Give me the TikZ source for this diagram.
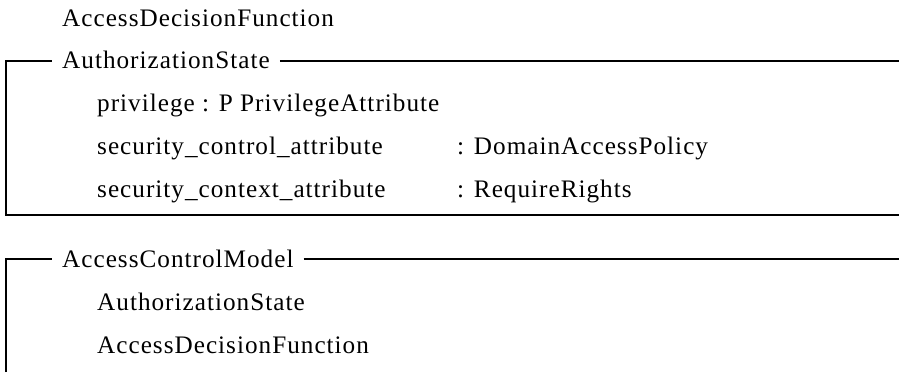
\documentclass[tikz,border=0pt]{standalone}
\usepackage{fontspec}
\setmainfont{Liberation Serif}
\newfontfamily\schemafont[LetterSpace=4]{Liberation Serif}

\begin{document}
\begin{tikzpicture}
[x=1pt,y=-1pt,
  textDecorate/.style={anchor=base west,inner sep=0pt,font=\schemafont\fontsize{25.2}{30}\selectfont},
  titleDecorate/.style={textDecorate,inner xsep=10pt},
  lineDecorate/.style={-,line width=1.5pt}]
\useasboundingbox (0,0) rectangle (899,372);
%% text lines
\foreach \nodename/\x/\y/\txt in {
  adfName/62/26/AccessDecisionFunction,
  privLine/97/111/privilege : P PrivilegeAttribute,
  ctrlLine/97/154/security\_control\_attribute,
  ctrlType/457/154/: DomainAccessPolicy,
  ctxLine/97/197/security\_context\_attribute,
  ctxType/457/197/: RequireRights,
  stateRef/97/310/AuthorizationState,
  adfRef/97/353/AccessDecisionFunction}
{
  \node (\nodename) at (\x,\y) [textDecorate] {\txt};
}
%% schema titles
\node (stateTitle) at (52,68) [titleDecorate] {AuthorizationState};
\node (modelTitle) at (52,267) [titleDecorate] {AccessControlModel};
%% frame corners
\coordinate (stateTL) at (6,61);
\coordinate (stateTR) at (899,61);
\coordinate (stateBL) at (6,215);
\coordinate (stateBR) at (899,215);
\coordinate (modelTL) at (6,259);
\coordinate (modelTR) at (899,259);
\coordinate (modelBL) at (6,372);
%% frames
\draw[lineDecorate] (stateBR) -- (stateBL) -- (stateTL) -- (stateTitle.west |- stateTL);
\draw[lineDecorate] (stateTitle.east |- stateTL) -- (stateTR);
\draw[lineDecorate] (modelBL) -- (modelTL) -- (modelTitle.west |- modelTL);
\draw[lineDecorate] (modelTitle.east |- modelTL) -- (modelTR);
\end{tikzpicture}
\end{document}
